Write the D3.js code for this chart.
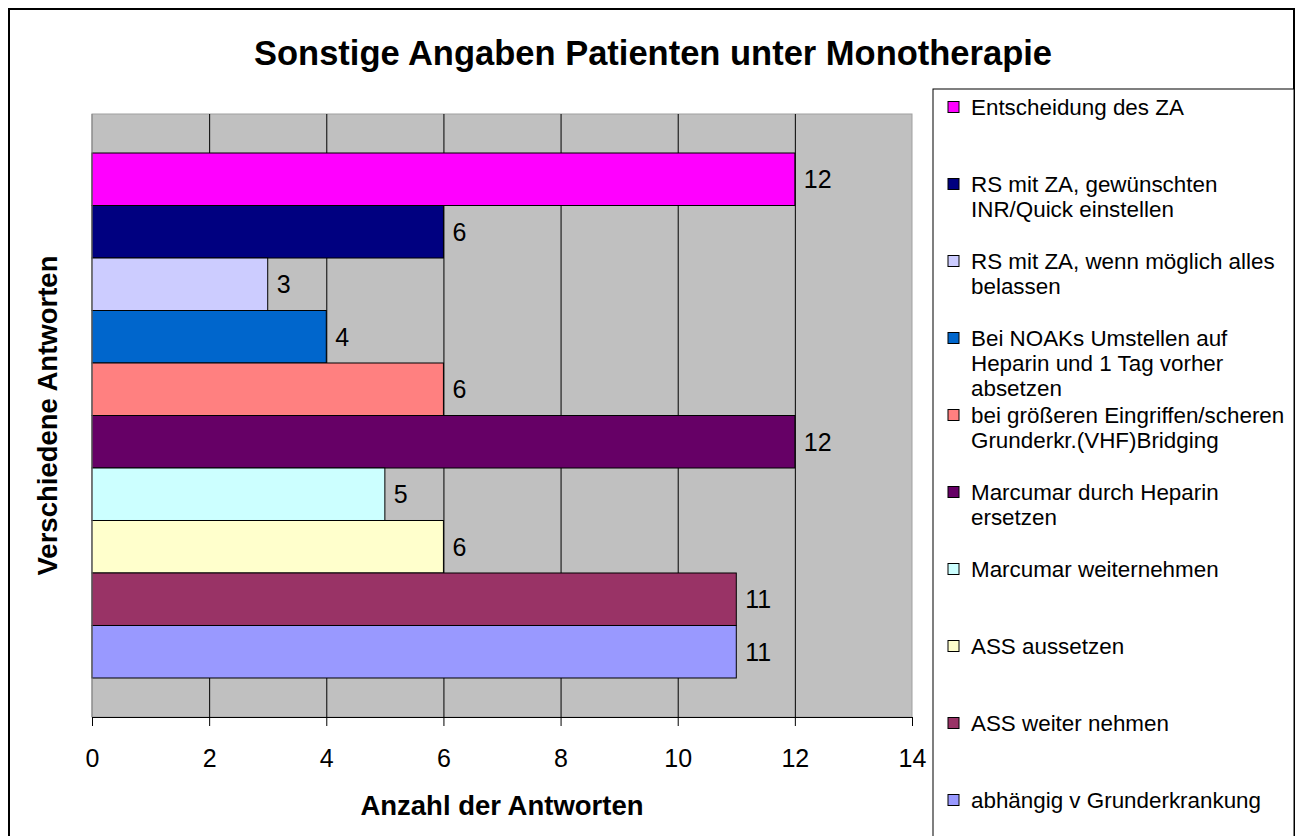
<!DOCTYPE html>
<html>
<head>
<meta charset="utf-8">
<script src="https://cdn.jsdelivr.net/npm/d3@7"></script>
<style>
  body { margin: 0; background: #fff; }
  text { font-family: Arial, "Liberation Sans", sans-serif; fill: #000; }
</style>
</head>
<body>
<div id="chart"></div>
<script>
// answers, top to bottom as in the chart
const answers = [
    "Entscheidung des ZA",
    "RS mit ZA, gewünschten INR/Quick einstellen",
    "RS mit ZA, wenn möglich alles belassen",
    "Bei NOAKs Umstellen auf Heparin und 1 Tag vorher absetzen",
    "bei größeren Eingriffen/scheren Grunderkr.(VHF)Bridging",
    "Marcumar durch Heparin ersetzen",
    "Marcumar weiternehmen",
    "ASS aussetzen",
    "ASS weiter nehmen",
    "abhängig v Grunderkrankung"
];
// legend lines (wrapped like the original)
const legendLines = [
    ["Entscheidung des ZA"],
    ["RS mit ZA, gewünschten", "INR/Quick einstellen"],
    ["RS mit ZA, wenn möglich alles", "belassen"],
    ["Bei NOAKs Umstellen auf", "Heparin und 1 Tag vorher", "absetzen"],
    ["bei größeren Eingriffen/scheren", "Grunderkr.(VHF)Bridging"],
    ["Marcumar durch Heparin", "ersetzen"],
    ["Marcumar weiternehmen"],
    ["ASS aussetzen"],
    ["ASS weiter nehmen"],
    ["abhängig v Grunderkrankung"]
];
const counts = [12, 6, 3, 4, 6, 12, 5, 6, 11, 11];
const colors = ["#FF00FF", "#000080", "#CCCCFF", "#0066CC", "#FF8080",
                "#660066", "#CCFFFF", "#FFFFCC", "#993366", "#9999FF"];
const xTicks = [0, 2, 4, 6, 8, 10, 12, 14];

const W = 1300, H = 836;
const plot = { left: 92, top: 114, right: 912, bottom: 717 };

const svg = d3.select("#chart")
    .append("svg")
    .attr("width", W)
    .attr("height", H);

// outer frame
svg.append("rect")
    .attr("x", 9).attr("y", 9)
    .attr("width", 1285).attr("height", 860)
    .attr("fill", "#fff")
    .attr("stroke", "#000")
    .attr("stroke-width", 2);

// title
svg.append("text")
    .attr("x", 653)
    .attr("y", 65)
    .style("text-anchor", "middle")
    .style("font-size", "34.5px")
    .style("font-weight", "bold")
    .text("Sonstige Angaben Patienten unter Monotherapie");

const x = d3.scaleLinear()
    .domain([0, 14])
    .range([plot.left, plot.right]);

const y = d3.scaleBand()
    .domain(answers)
    .range([plot.top, plot.bottom])
    .paddingInner(0)
    .paddingOuter(0.743);

// plot background
svg.append("rect")
    .attr("x", plot.left).attr("y", plot.top)
    .attr("width", plot.right - plot.left)
    .attr("height", plot.bottom - plot.top)
    .attr("fill", "#C0C0C0")
    .attr("stroke", "#a0a0a0");

// gridlines
svg.append("g")
    .attr("transform", `translate(0,${plot.bottom})`)
    .call(d3.axisBottom(x).tickValues(xTicks.slice(1, -1))
        .tickSize(-(plot.bottom - plot.top)).tickFormat(""))
    .call(g => g.select(".domain").remove())
    .call(g => g.selectAll("line").attr("stroke", "#000"));

// bars
svg.selectAll(".bar")
    .data(answers)
    .enter()
    .append("rect")
    .attr("class", "bar")
    .attr("x", x(0))
    .attr("y", d => y(d))
    .attr("width", (d, i) => x(counts[i]) - x(0))
    .attr("height", y.bandwidth())
    .attr("fill", (d, i) => colors[i])
    .attr("stroke", "#000")
    .attr("stroke-width", 1);

// value labels
svg.selectAll(".val")
    .data(answers)
    .enter()
    .append("text")
    .attr("class", "val")
    .attr("x", (d, i) => x(counts[i]) + 9)
    .attr("y", d => y(d) + y.bandwidth() / 2)
    .attr("dy", "0.36em")
    .style("font-size", "25px")
    .text((d, i) => counts[i]);

// left axis line
svg.append("line")
    .attr("x1", plot.left).attr("x2", plot.left)
    .attr("y1", plot.top).attr("y2", plot.bottom)
    .attr("stroke", "#808080");

// x axis
const xAxis = svg.append("g")
    .attr("transform", `translate(0,${plot.bottom})`)
    .call(d3.axisBottom(x).tickValues(xTicks).tickSizeInner(9).tickSizeOuter(0).tickPadding(23));
xAxis.select(".domain").attr("stroke", "#000");
xAxis.selectAll("line").attr("stroke", "#000");
xAxis.selectAll("text")
    .style("font-size", "25px")
    .style("font-family", "Arial, 'Liberation Sans', sans-serif")
    .attr("fill", "#000");

// axis titles
svg.append("text")
    .attr("x", (plot.left + plot.right) / 2)
    .attr("y", 815)
    .style("text-anchor", "middle")
    .style("font-size", "27.5px")
    .style("font-weight", "bold")
    .text("Anzahl der Antworten");

svg.append("text")
    .attr("transform", "rotate(-90)")
    .attr("x", -(plot.top + plot.bottom) / 2)
    .attr("y", 57)
    .style("text-anchor", "middle")
    .style("font-size", "27.5px")
    .style("font-weight", "bold")
    .text("Verschiedene Antworten");

// legend
svg.append("rect")
    .attr("x", 933).attr("y", 89)
    .attr("width", 361).attr("height", 800)
    .attr("fill", "#fff")
    .attr("stroke", "#000")
    .attr("stroke-width", 1);

const legend = svg.selectAll(".legend")
    .data(legendLines)
    .enter()
    .append("g")
    .attr("class", "legend")
    .attr("transform", (d, i) => `translate(948,${107 + i * 77})`);

legend.append("rect")
    .attr("x", 0).attr("y", -5.5)
    .attr("width", 11).attr("height", 11)
    .attr("fill", (d, i) => colors[i])
    .attr("stroke", "#000");

legend.each(function (lines) {
    const t = d3.select(this).append("text")
        .attr("x", 23)
        .attr("y", 0)
        .style("font-size", "22.4px");
    lines.forEach((l, j) => {
        t.append("tspan")
            .attr("x", 23)
            .attr("dy", j === 0 ? "0.36em" : "1.12em")
            .text(l);
    });
});
</script>
</body>
</html>
